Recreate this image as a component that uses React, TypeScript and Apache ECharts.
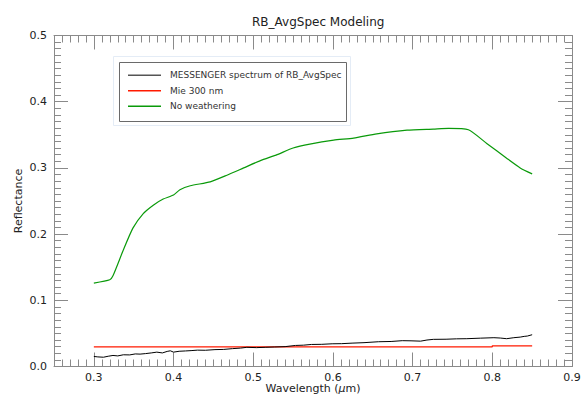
import React, { useEffect, useRef } from "react";
import * as echarts from "echarts";

const titleText = "RB_AvgSpec Modeling";
const xAxisName = "Wavelength ({i|μ}m)";
const yAxisName = "Reflectance";
const seriesNames = ["MESSENGER spectrum of RB_AvgSpec", "Mie 300 nm", "No weathering"];

const xMajorTicks = [0.3, 0.4, 0.5, 0.6, 0.7, 0.8, 0.9];
const xMinorTicks: number[] = [];
for (let i = 26; i < 90; i++) if (i % 10 !== 0) xMinorTicks.push(i / 100);

const messengerWl = [0.300, 0.305, 0.312, 0.318, 0.324, 0.330, 0.337, 0.345, 0.352, 0.358, 0.365, 0.372, 0.379, 0.386, 0.392, 0.396, 0.400, 0.407, 0.415, 0.422, 0.430, 0.440, 0.452, 0.463, 0.474, 0.484, 0.492, 0.504, 0.515, 0.527, 0.540, 0.553, 0.563, 0.573, 0.586, 0.599, 0.611, 0.624, 0.639, 0.657, 0.673, 0.687, 0.698, 0.710, 0.718, 0.726, 0.742, 0.755, 0.768, 0.785, 0.802, 0.810, 0.818, 0.827, 0.835, 0.840, 0.844, 0.850];
const messengerRefl = [0.0152, 0.0145, 0.014, 0.0155, 0.0167, 0.016, 0.0177, 0.0175, 0.019, 0.0187, 0.0195, 0.0205, 0.0217, 0.0205, 0.0228, 0.0237, 0.0217, 0.023, 0.0235, 0.024, 0.0247, 0.0245, 0.0255, 0.0258, 0.027, 0.0278, 0.029, 0.0285, 0.029, 0.0295, 0.030, 0.0318, 0.0322, 0.0333, 0.0335, 0.0343, 0.0345, 0.0353, 0.036, 0.0374, 0.0378, 0.039, 0.0388, 0.0383, 0.040, 0.041, 0.0412, 0.0418, 0.042, 0.0428, 0.0435, 0.043, 0.042, 0.0435, 0.0444, 0.0455, 0.046, 0.048];

const mieWl = [0.30, 0.80, 0.80, 0.85];
const mieRefl = [0.0297, 0.0297, 0.0312, 0.0312];

const freshWl = [0.300, 0.320, 0.324, 0.337, 0.349, 0.362, 0.375, 0.387, 0.400, 0.408, 0.421, 0.446, 0.467, 0.488, 0.509, 0.530, 0.550, 0.571, 0.601, 0.626, 0.655, 0.693, 0.726, 0.745, 0.770, 0.793, 0.818, 0.835, 0.850];
const freshRefl = [0.126, 0.131, 0.137, 0.176, 0.209, 0.231, 0.244, 0.253, 0.259, 0.267, 0.273, 0.279, 0.289, 0.300, 0.311, 0.320, 0.330, 0.336, 0.342, 0.345, 0.3515, 0.357, 0.3586, 0.3596, 0.3576, 0.337, 0.3146, 0.300, 0.291];

const seriesColors = ["#000000", "#ff1a00", "#0a9a0a"];

const FONT = "DejaVu Sans";
const AXIS_COLOR = "#8a8a8a";

export default function App() {
  const ref = useRef<HTMLDivElement>(null);
  useEffect(() => {
    const chart = echarts.init(ref.current!, null, { renderer: "svg" });
    const zip = (a: number[], b: number[]) => a.map((v, i) => [v, b[i]]);
    const baseX = {
      type: "value",
      min: 0.25,
      max: 0.9,
      splitLine: { show: false },
    };
    const baseY = {
      type: "value",
      min: 0,
      max: 0.5,
      interval: 0.1,
      splitLine: { show: false },
      axisLine: { show: true, lineStyle: { color: AXIS_COLOR, width: 1 } },
      axisTick: { show: true, inside: true, length: 14, lineStyle: { color: AXIS_COLOR } },
      minorTick: { show: true, splitNumber: 10, length: 7, lineStyle: { color: AXIS_COLOR } },
    };
    const option: any = {
      animation: false,
      backgroundColor: "#ffffff",
      title: {
        text: titleText,
        left: 247,
        top: 11,
        textStyle: { fontFamily: FONT, fontSize: 12, fontWeight: "normal", color: "#222" },
      },
      grid: { left: 54, right: 9, top: 35.5, bottom: 27.5, containLabel: false, outerBoundsMode: "none" },
      legend: {
        orient: "vertical",
        left: 128,
        top: 69,
        padding: 0,
        itemWidth: 33,
        itemHeight: 1.5,
        itemGap: 3,
        icon: "rect",
        textStyle: { fontFamily: FONT, fontSize: 9, color: "#333", lineHeight: 12.5, padding: [0, 0, 0, 4] },
        data: [
          { name: seriesNames[0], itemStyle: { color: "#555" } },
          { name: seriesNames[1] },
          { name: seriesNames[2] },
        ],
        z: 10,
      },
      graphic: [
        {
          type: "rect",
          shape: { x: 113.5, y: 56.5, width: 237, height: 69 },
          style: { fill: "#fff", stroke: "#e4ecf6", lineWidth: 1 },
          z: 5,
        },
        {
          type: "rect",
          shape: { x: 119.5, y: 62.5, width: 227, height: 59 },
          style: { fill: "#fff", stroke: "#6a6a6a", lineWidth: 1 },
          z: 6,
        },
      ],
      xAxis: [
        {
          ...baseX,
          position: "bottom",
          axisLine: { show: true, lineStyle: { color: AXIS_COLOR, width: 1 } },
          axisTick: { show: true, inside: true, length: 14, customValues: xMajorTicks, lineStyle: { color: AXIS_COLOR } },
          axisLabel: {
            show: true,
            customValues: xMajorTicks,
            margin: 4.5,
            lineHeight: 12,
            formatter: (v: number) => v.toFixed(1),
            fontFamily: FONT,
            fontSize: 11,
            color: "#222",
          },
          name: xAxisName,
          nameLocation: "middle",
          nameGap: 16.7,
          nameMoveOverlap: false,
          nameTextStyle: {
            fontFamily: FONT,
            fontSize: 11,
            lineHeight: 10.5,
            color: "#222",
            rich: { i: { fontFamily: FONT, fontSize: 11, lineHeight: 10.5, fontStyle: "italic", color: "#222" } },
          },
        },
        {
          ...baseX,
          position: "bottom",
          axisLine: { show: false },
          axisTick: { show: true, inside: true, length: 7, customValues: xMinorTicks, lineStyle: { color: AXIS_COLOR } },
          axisLabel: { show: false },
        },
        {
          ...baseX,
          position: "top",
          axisLine: { show: true, lineStyle: { color: AXIS_COLOR, width: 1 } },
          axisTick: { show: true, inside: true, length: 14, customValues: xMajorTicks, lineStyle: { color: AXIS_COLOR } },
          axisLabel: { show: false },
        },
        {
          ...baseX,
          position: "top",
          axisLine: { show: false },
          axisTick: { show: true, inside: true, length: 7, customValues: xMinorTicks, lineStyle: { color: AXIS_COLOR } },
          axisLabel: { show: false },
        },
      ],
      yAxis: [
        {
          ...baseY,
          position: "left",
          axisLabel: {
            show: true,
            margin: 7,
            formatter: (v: number) => v.toFixed(1),
            fontFamily: FONT,
            fontSize: 11,
            color: "#222",
          },
          name: yAxisName,
          nameLocation: "middle",
          nameGap: 30,
          nameMoveOverlap: false,
          nameTextStyle: { fontFamily: FONT, fontSize: 11, color: "#222" },
        },
        {
          ...baseY,
          position: "right",
          axisLabel: { show: false },
        },
      ],
      series: [
        {
          name: seriesNames[0],
          type: "line",
          data: zip(messengerWl, messengerRefl),
          showSymbol: false,
          lineStyle: { color: seriesColors[0], width: 1 },
          itemStyle: { color: seriesColors[0] },
          z: 3,
        },
        {
          name: seriesNames[1],
          type: "line",
          data: zip(mieWl, mieRefl),
          showSymbol: false,
          lineStyle: { color: seriesColors[1], width: 1.3 },
          itemStyle: { color: seriesColors[1] },
          z: 2,
        },
        {
          name: seriesNames[2],
          type: "line",
          data: zip(freshWl, freshRefl),
          showSymbol: false,
          smooth: 0.2,
          lineStyle: { color: seriesColors[2], width: 1.2 },
          itemStyle: { color: seriesColors[2] },
          z: 2,
        },
      ],
    };
    chart.setOption(option);
    return () => chart.dispose();
  }, []);
  return (
    <div
      ref={ref}
      style={{ position: "absolute", left: 0, top: 0, width: 581, height: 394, background: "#fff" }}
    />
  );
}
